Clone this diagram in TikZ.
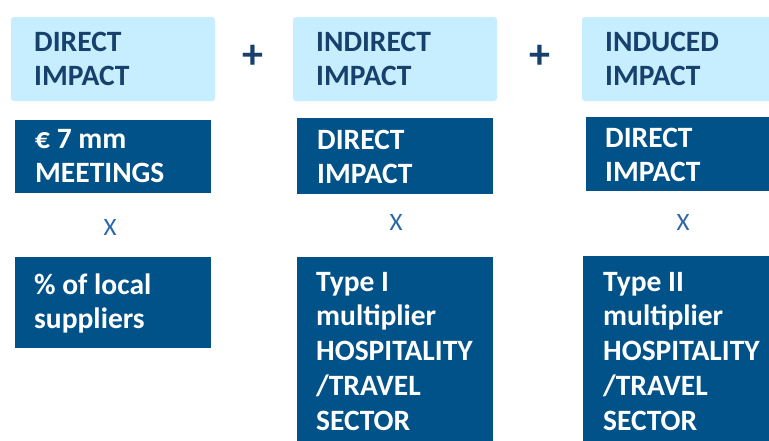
\documentclass[tikz,border=0pt]{standalone}
\usepackage{fontspec}
\setmainfont{Carlito}
\definecolor{lightblue}{HTML}{C6EEFE}
\definecolor{darkblue}{HTML}{005288}
\definecolor{navytext}{HTML}{17406D}
\definecolor{xblue}{HTML}{2A68AA}
\begin{document}
\begin{tikzpicture}[x=1pt,y=-1pt,
  lightbox/.style={fill=lightblue, draw=none, rounded corners=3pt},
  darkbox/.style={fill=darkblue, draw=none},
  boxtxt/.style={anchor=north west, inner sep=0pt, align=left, font=\fontsize{29.5}{34.8}\selectfont\bfseries},
  lighttxt/.style={boxtxt, text=navytext},
  darktxt/.style={boxtxt, text=white},
  plussym/.style={font=\fontsize{42}{46}\selectfont\bfseries, text=navytext, inner sep=0pt},
  timessym/.style={font=\fontsize{25}{28}\selectfont, text=xblue, inner sep=0pt}]
\useasboundingbox (0,0) rectangle (769,440);
\clip (0,0) rectangle (769,440);
\fill[white] (0,0) rectangle (769,440);

% header boxes
\fill[lightbox] (11,17) rectangle (215,101);
\fill[lightbox] (293,17) rectangle (497,101);
\fill[lightbox] (582,17) rectangle (786,101);
\node[lighttxt] (h1) at (34,26.6) {\strut DIRECT\\IMPACT};
\node[lighttxt] (h2) at (316,26.6) {\strut INDIRECT\\IMPACT};
\node[lighttxt] (h3) at (605,26.6) {\strut INDUCED\\IMPACT};

% plus signs
\node[plussym] (p1) at (253,57) {+};
\node[plussym] (p2) at (540,57) {+};

% first factor boxes
\fill[darkbox] (15,120) rectangle (211,193);
\fill[darkbox] (297,118) rectangle (493,194);
\fill[darkbox] (586,117) rectangle (782,191);
\node[darktxt] (a1) at (35,123.6) {\strut € 7 mm\\MEETINGS};
\node[darktxt] (a2) at (317,124.6) {\strut DIRECT\\IMPACT};
\node[darktxt] (a3) at (605,122.6) {\strut DIRECT\\IMPACT};

% times signs
\node[timessym] (x1) at (110,227.5) {X};
\node[timessym] (x2) at (396,222) {X};
\node[timessym] (x3) at (683,222) {X};

% second factor boxes
\fill[darkbox] (15,257) rectangle (211,348);
\fill[darkbox] (297,257) rectangle (493,450);
\fill[darkbox] (583,256) rectangle (779,450);
\node[darktxt] (b1) at (34,269.6) {\strut \% of local\\suppliers};
\node[darktxt] (b2) at (316,266.6) {\strut Type I\\multiplier\\HOSPITALITY\\/TRAVEL\\SECTOR};
\node[darktxt] (b3) at (603,266.6) {\strut Type II\\multiplier\\HOSPITALITY\\/TRAVEL\\SECTOR};
\end{tikzpicture}
\end{document}
